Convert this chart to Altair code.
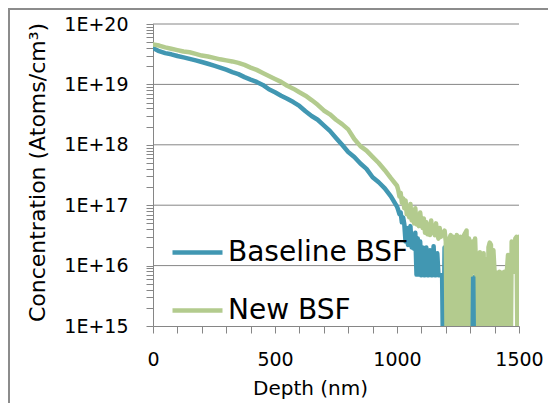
import altair as alt
import pandas as pd

# ---------------- data ----------------
Z = 1e14  # below detection limit (plots at the bottom of the axis)

DEPTH_SMOOTH = list(range(0, 1001, 25))      # nm
DEPTH_NOISY = list(range(1005, 1501, 5))     # nm

BASELINE_SMOOTH = [
    4.0e19, 3.55e19, 3.3e19, 3.15e19, 2.95e19, 2.8e19, 2.65e19, 2.5e19, 2.35e19, 2.2e19,
    2.05e19, 1.9e19, 1.75e19, 1.6e19, 1.48e19, 1.32e19, 1.2e19, 1.1e19, 9.8e18, 8.3e18,
    7.4e18, 6.5e18, 5.8e18, 5.1e18, 4.4e18, 3.6e18, 3.0e18, 2.6e18, 2.1e18, 1.7e18,
    1.3e18, 1.0e18, 7.6e17, 6.3e17, 4.9e17, 4.0e17, 2.9e17, 2.4e17, 1.9e17, 1.4e17,
    9.5e16,
]
BASELINE_NOISY = [
    8.3e16, 7.1e16, 7.6e16, 5.2e16, 6.3e16, 4.8e16, 2.5e16, 4.2e16, 2.2e16, 3.5e16,
    4.5e16, 2.0e16, 3.2e16, 1.9e16, 3.5e16, 7.1e15, 2.8e16, 7.1e15, 2.5e16, 6.9e15,
    2.0e16, 6.9e15, 6.9e15, 2.0e16, 6.9e15, 6.9e15, 1.8e16, 6.9e15, 6.9e15, 2.1e16,
    6.9e15, 6.9e15, 1.6e16, 6.9e15, 6.9e15, 6.9e15, 6.9e15, Z, 2.0e16, Z,
    Z, 2.5e16, 2.8e16, Z, 2.5e16, Z, 2.4e16, Z, 2.0e16, Z,
    Z, Z, Z, Z, Z, Z, Z, 6.5e15, Z, 6.5e15,
    6.5e15, Z, 6.5e15, 6.5e15, Z, 6.5e15, Z, Z, Z, Z,
    Z, Z, Z, Z, Z, Z, Z, Z, Z, Z,
    Z, Z, Z, Z, Z, Z, Z, Z, Z, Z,
    Z, Z, Z, Z, Z, Z, Z, Z, Z, Z,
]
NEW_SMOOTH = [
    4.6e19, 4.4e19, 4.1e19, 3.9e19, 3.7e19, 3.5e19, 3.4e19, 3.2e19, 3.0e19, 2.9e19,
    2.75e19, 2.6e19, 2.5e19, 2.4e19, 2.27e19, 2.1e19, 1.9e19, 1.74e19, 1.55e19, 1.38e19,
    1.23e19, 1.1e19, 9.5e18, 8.5e18, 7.4e18, 6.5e18, 5.5e18, 4.6e18, 3.7e18, 3.2e18,
    2.6e18, 2.2e18, 1.8e18, 1.25e18, 9.5e17, 8.0e17, 6.3e17, 5.0e17, 3.8e17, 2.8e17,
    2.1e17,
]
NEW_NOISY = [
    1.8e17, 1.4e17, 1.6e17, 1.1e17, 1.3e17, 8.9e16, 1.2e17, 7.1e16, 9.5e16, 6.3e16,
    1.05e17, 5.6e16, 7.9e16, 5.0e16, 8.9e16, 4.8e16, 6.3e16, 4.5e16, 7.6e16, 5.0e16,
    4.2e16, 6.0e16, 3.5e16, 5.2e16, 3.3e16, 4.8e16, 3.2e16, 5.6e16, 3.5e16, 3.8e16,
    3.2e16, 5.0e16, 3.3e16, 2.8e16, 4.2e16, 3.0e16, 3.5e16, 3.2e16, 3.8e16, 2.5e16,
    Z, Z, 2.8e16, 3.2e16, Z, 3.0e16, 2.6e16, Z, 3.2e16, 2.8e16,
    Z, 3.0e16, 2.4e16, Z, 3.2e16, 3.5e16, 3.8e16, Z, 2.8e16, 2.0e16,
    7.1e15, 2.5e16, 7.9e15, 2.8e16, 7.1e15, 1.6e16, Z, 1.66e16, 1.4e16, Z,
    1.6e16, Z, 1.26e16, Z, 2.0e16, 2.4e16, 2.2e16, Z, 1.8e16, 7.6e15,
    Z, 7.6e15, Z, 7.9e15, 7.6e15, Z, 7.6e15, 7.9e15, Z, 7.6e15,
    1.5e16, 1.4e16, Z, 2.5e16, 8.9e15, 7.9e15, 2.8e16, 3.0e16, Z, 3.0e16,
]

SERIES = ["Baseline BSF", "New BSF"]
COLORS = ["#4197B2", "#B3CB8E"]

X_TICKS = list(range(0, 1501, 100))
Y_TICKS = [float(m * 10 ** e) for e in range(15, 20) for m in range(1, 10)] + [1e20]
GRID = [1e16, 1e17, 1e18, 1e19, 1e20]

assert len(BASELINE_SMOOTH) == len(DEPTH_SMOOTH) == len(NEW_SMOOTH)
assert len(BASELINE_NOISY) == len(DEPTH_NOISY) == len(NEW_NOISY)

depth = DEPTH_SMOOTH + DEPTH_NOISY
df = pd.concat([
    pd.DataFrame({"depth": depth, "conc": BASELINE_SMOOTH + BASELINE_NOISY, "series": SERIES[0]}),
    pd.DataFrame({"depth": depth, "conc": NEW_SMOOTH + NEW_NOISY, "series": SERIES[1]}),
])

FONT = "DejaVu Sans"
GRAY = "#868686"

x_enc = alt.X(
    "depth:Q",
    scale=alt.Scale(domain=[0, 1500], nice=False, zero=False),
    axis=alt.Axis(
        values=X_TICKS,
        labelExpr="datum.value % 500 === 0 ? '' + datum.value : ''",
        grid=False, tickSize=7, tickColor=GRAY, domainColor=GRAY,
        labelFont=FONT, labelFontSize=19, labelColor="black", labelPadding=17,
        labelFlush=False, labelOverlap=False,
        title="Depth (nm)", titleFont=FONT, titleFontSize=20, titleFontWeight="normal",
        titleColor="black", titleX=157, titleY=62, titleBaseline="middle",
    ),
)

y_enc = alt.Y(
    "conc:Q",
    scale=alt.Scale(type="log", domain=[1e15, 1e20], nice=False),
    axis=alt.Axis(
        values=Y_TICKS,
        labelExpr="abs(log(datum.value)/LN10 - round(log(datum.value)/LN10)) < 0.001 ? '1E+' + round(log(datum.value)/LN10) : ''",
        grid=False, tickSize=7, tickColor=GRAY, domainColor=GRAY,
        labelFont=FONT, labelFontSize=19, labelColor="black", labelPadding=18,
        labelFlush=False, labelOverlap=False,
        title="Concentration (Atoms/cm³)", titleFont=FONT, titleFontSize=22,
        titleFontWeight="normal", titleColor="black",
        titleX=-116, titleY=148, titleBaseline="middle", titleAlign="center",
    ),
)

grid = alt.Chart(pd.DataFrame({"conc": GRID})).mark_rule(color=GRAY, strokeWidth=1).encode(y=y_enc)

lines = alt.Chart(df).mark_line(
    strokeWidth=4.5, strokeCap="round", strokeJoin="round", clip=True
).encode(
    x=x_enc,
    y=y_enc,
    color=alt.Color(
        "series:N",
        scale=alt.Scale(domain=SERIES, range=COLORS),
        legend=alt.Legend(
            orient="none", legendX=17, legendY=201, title=None,
            symbolType="stroke", symbolSize=2500, symbolStrokeWidth=4.5,
            labelFont=FONT, labelFontSize=28, labelColor="black", labelOffset=3,
            labelLimit=0, rowPadding=16, padding=0,
        ),
    ),
)

border_df = pd.DataFrame({"k": [0]})
top_border = alt.Chart(border_df).mark_rule(color="#8c8c8c", strokeWidth=2).encode(
    x=alt.value(-145), x2=alt.value(395), y=alt.value(-15)
)
left_border = alt.Chart(border_df).mark_rule(color="#8c8c8c", strokeWidth=2).encode(
    x=alt.value(-144), y=alt.value(-16), y2=alt.value(400)
)

chart = alt.layer(grid, lines, top_border, left_border).properties(
    width=366, height=302,
    autosize=alt.AutoSizeParams(type="none"),
    padding={"left": 145, "top": 16, "right": 29, "bottom": 79},
    background="white",
).configure_view(stroke=None)

chart.save("out.html", embed_options={"renderer": "svg", "actions": False})
